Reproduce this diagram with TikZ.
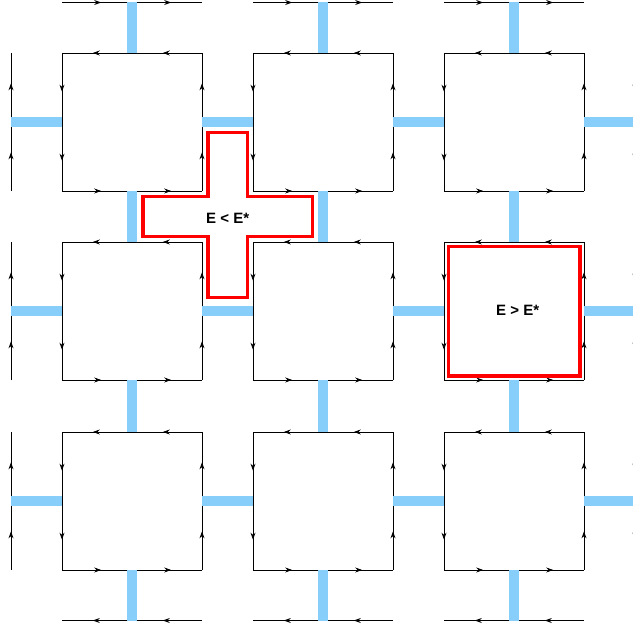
\documentclass[tikz,border=0pt]{standalone}
\usepackage{fontspec}
\setmainfont{Liberation Sans}
\usetikzlibrary{arrows.meta,decorations.markings}
\definecolor{barblue}{HTML}{87CEFA}
\tikzset{
  flowtip/.tip={Stealth[length=7pt,width=5pt]},
  flow/.style={draw=black, line width=0.8pt, postaction={decorate},
    decoration={markings,
      mark=at position 0.28 with {\arrow{flowtip}},
      mark=at position 0.78 with {\arrow{flowtip}}}},
  barfill/.style={fill=barblue, draw=none},
  redline/.style={draw=red, line width=3.6pt, line join=miter},
  enlabel/.style={font=\bfseries\fontsize{15}{18}\selectfont, inner sep=0pt}
}
\begin{document}
\begin{tikzpicture}[x=1pt,y=-1pt]
\useasboundingbox (0,0) rectangle (633,631);
\begin{scope}
\clip (0,0) rectangle (633,631);
% square plaquettes with circulating edges
\foreach \L in {62,253,444} {
  \pgfmathsetmacro\R{\L+140}
  \foreach \T in {53,242,432} {
    \pgfmathsetmacro\B{\T+138}
    \draw[flow] (\R,\T) -- (\L,\T);
    \draw[flow] (\L,\T) -- (\L,\B);
    \draw[flow] (\L,\B) -- (\R,\B);
    \draw[flow] (\R,\B) -- (\R,\T);
  }
  \draw[flow] (\L,2.5) -- (\R,2.5);
  \draw[flow] (\R,620.5) -- (\L,620.5);
}
\foreach \T in {53,242,432} {
  \pgfmathsetmacro\B{\T+138}
  \draw[flow] (11,\B) -- (11,\T);
  \draw[flow] (635,\T) -- (635,\B);
}
% blue vertical bars
\foreach \L in {62,253,444} {
  \pgfmathsetmacro\C{\L+70}
  \foreach \ya/\yb in {2/53,191/242,380/432,570/621} {
    \fill[barfill] (\C-5.25,\ya) rectangle (\C+5.25,\yb);
  }
}
% blue horizontal bars
\foreach \T in {53,242,432} {
  \pgfmathsetmacro\C{\T+69}
  \foreach \xa/\xb in {11/62,202/253,393/444,584/640} {
    \fill[barfill] (\xa,\C-5.25) rectangle (\xb,\C+5.25);
  }
}
\end{scope}
% red regions
\draw[redline] (207.8,132.5) -- (247.3,132.5) -- (247.3,196.5) -- (312.3,196.5)
  -- (312.3,236.5) -- (247.3,236.5) -- (247.3,297.5) -- (207.8,297.5)
  -- (207.8,236.5) -- (142.7,236.5) -- (142.7,196.5) -- (207.8,196.5) -- cycle;
\draw[redline] (448.3,246.7) rectangle (580,376);
\node[enlabel] (lower) at (227.7,218.5) {E < E*};
\node[enlabel] (higher) at (517.7,310.5) {E > E*};
\end{tikzpicture}
\end{document}
